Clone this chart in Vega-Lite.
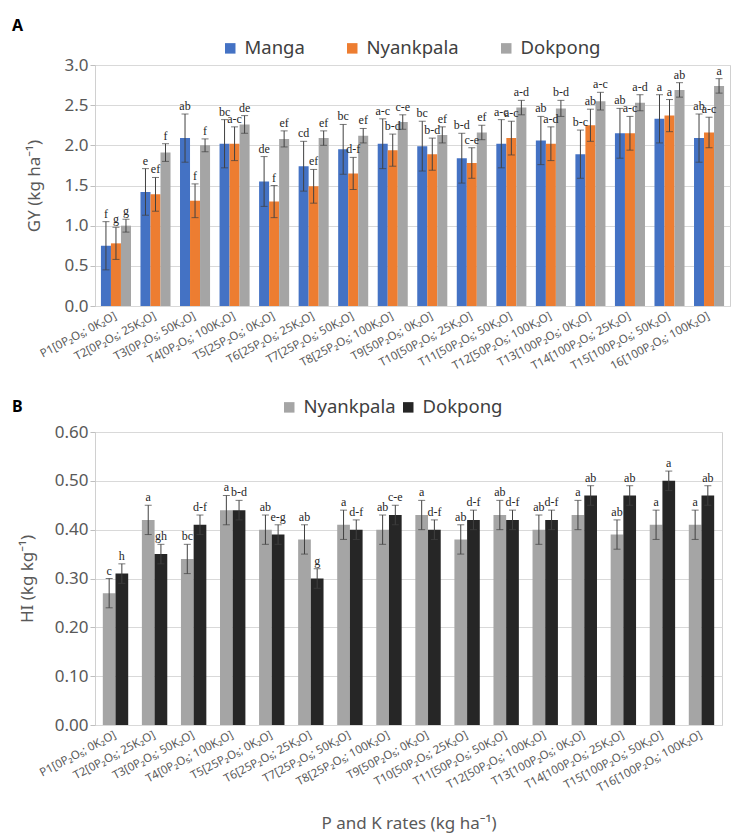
{
  "$schema": "https://vega.github.io/schema/vega-lite/v6.json",
  "background": "white",
  "padding": {"left": 11, "top": 17, "right": 2, "bottom": 0},
  "spacing": 24,
  "resolve": {"scale": {"color": "independent", "x": "independent", "xOffset": "independent", "y": "independent"}, "legend": {"color": "independent"}},
  "config": {
    "view": {"stroke": "#d0d0d0", "strokeWidth": 1},
    "font": "Noto Sans",
    "axis": {
      "labelFont": "Noto Sans",
      "titleFont": "Noto Sans",
      "labelColor": "#595959",
      "titleColor": "#595959",
      "titleFontWeight": "normal",
      "gridColor": "#d9d9d9",
      "domain": false
    },
    "legend": {"labelFont": "Noto Sans", "labelColor": "#404040"},
    "title": {"font": "Noto Sans", "fontWeight": "bold", "fontSize": 16, "color": "#000000", "anchor": "start", "frame": "group"}
  },
  "datasets": {
    "gy": [
      {"t": "P1[0P₂O₅; 0K₂O]", "s": "Manga", "v": 0.75, "lo": 0.45, "hi": 1.05, "l": "f"},
      {"t": "P1[0P₂O₅; 0K₂O]", "s": "Nyankpala", "v": 0.78, "lo": 0.58, "hi": 0.98, "l": "g"},
      {"t": "P1[0P₂O₅; 0K₂O]", "s": "Dokpong", "v": 1.0, "lo": 0.92, "hi": 1.08, "l": "g"},
      {"t": "T2[0P₂O₅; 25K₂O]", "s": "Manga", "v": 1.42, "lo": 1.13, "hi": 1.71, "l": "e"},
      {"t": "T2[0P₂O₅; 25K₂O]", "s": "Nyankpala", "v": 1.39, "lo": 1.18, "hi": 1.6, "l": "ef"},
      {"t": "T2[0P₂O₅; 25K₂O]", "s": "Dokpong", "v": 1.91, "lo": 1.8, "hi": 2.02, "l": "f"},
      {"t": "T3[0P₂O₅; 50K₂O]", "s": "Manga", "v": 2.09, "lo": 1.79, "hi": 2.39, "l": "ab"},
      {"t": "T3[0P₂O₅; 50K₂O]", "s": "Nyankpala", "v": 1.31, "lo": 1.1, "hi": 1.52, "l": "f"},
      {"t": "T3[0P₂O₅; 50K₂O]", "s": "Dokpong", "v": 2.0, "lo": 1.92, "hi": 2.08, "l": "f"},
      {"t": "T4[0P₂O₅; 100K₂O]", "s": "Manga", "v": 2.02, "lo": 1.72, "hi": 2.32, "l": "bc"},
      {"t": "T4[0P₂O₅; 100K₂O]", "s": "Nyankpala", "v": 2.02, "lo": 1.81, "hi": 2.23, "l": "a-c"},
      {"t": "T4[0P₂O₅; 100K₂O]", "s": "Dokpong", "v": 2.26, "lo": 2.15, "hi": 2.37, "l": "de"},
      {"t": "T5[25P₂O₅; 0K₂O]", "s": "Manga", "v": 1.55, "lo": 1.24, "hi": 1.86, "l": "de"},
      {"t": "T5[25P₂O₅; 0K₂O]", "s": "Nyankpala", "v": 1.3, "lo": 1.1, "hi": 1.5, "l": "f"},
      {"t": "T5[25P₂O₅; 0K₂O]", "s": "Dokpong", "v": 2.08, "lo": 1.98, "hi": 2.18, "l": "ef"},
      {"t": "T6[25P₂O₅; 25K₂O]", "s": "Manga", "v": 1.74, "lo": 1.43, "hi": 2.05, "l": "cd"},
      {"t": "T6[25P₂O₅; 25K₂O]", "s": "Nyankpala", "v": 1.49, "lo": 1.28, "hi": 1.7, "l": "ef"},
      {"t": "T6[25P₂O₅; 25K₂O]", "s": "Dokpong", "v": 2.09, "lo": 2.0, "hi": 2.18, "l": "ef"},
      {"t": "T7[25P₂O₅; 50K₂O]", "s": "Manga", "v": 1.95, "lo": 1.64, "hi": 2.26, "l": "bc"},
      {"t": "T7[25P₂O₅; 50K₂O]", "s": "Nyankpala", "v": 1.65, "lo": 1.45, "hi": 1.85, "l": "d-f"},
      {"t": "T7[25P₂O₅; 50K₂O]", "s": "Dokpong", "v": 2.12, "lo": 2.03, "hi": 2.21, "l": "ef"},
      {"t": "T8[25P₂O₅; 100K₂O]", "s": "Manga", "v": 2.02, "lo": 1.71, "hi": 2.33, "l": "a-c"},
      {"t": "T8[25P₂O₅; 100K₂O]", "s": "Nyankpala", "v": 1.94, "lo": 1.74, "hi": 2.14, "l": "b-d"},
      {"t": "T8[25P₂O₅; 100K₂O]", "s": "Dokpong", "v": 2.29, "lo": 2.2, "hi": 2.38, "l": "c-e"},
      {"t": "T9[50P₂O₅; 0K₂O]", "s": "Manga", "v": 1.99, "lo": 1.68, "hi": 2.3, "l": "bc"},
      {"t": "T9[50P₂O₅; 0K₂O]", "s": "Nyankpala", "v": 1.89, "lo": 1.69, "hi": 2.09, "l": "b-d"},
      {"t": "T9[50P₂O₅; 0K₂O]", "s": "Dokpong", "v": 2.13, "lo": 2.03, "hi": 2.23, "l": "ef"},
      {"t": "T10[50P₂O₅; 25K₂O]", "s": "Manga", "v": 1.84, "lo": 1.53, "hi": 2.15, "l": "b-d"},
      {"t": "T10[50P₂O₅; 25K₂O]", "s": "Nyankpala", "v": 1.78, "lo": 1.59, "hi": 1.97, "l": "c-e"},
      {"t": "T10[50P₂O₅; 25K₂O]", "s": "Dokpong", "v": 2.16, "lo": 2.07, "hi": 2.25, "l": "ef"},
      {"t": "T11[50P₂O₅; 50K₂O]", "s": "Manga", "v": 2.02, "lo": 1.72, "hi": 2.32, "l": "a-c"},
      {"t": "T11[50P₂O₅; 50K₂O]", "s": "Nyankpala", "v": 2.09, "lo": 1.88, "hi": 2.3, "l": "a-c"},
      {"t": "T11[50P₂O₅; 50K₂O]", "s": "Dokpong", "v": 2.47, "lo": 2.38, "hi": 2.56, "l": "a-d"},
      {"t": "T12[50P₂O₅; 100K₂O]", "s": "Manga", "v": 2.06, "lo": 1.76, "hi": 2.36, "l": "ab"},
      {"t": "T12[50P₂O₅; 100K₂O]", "s": "Nyankpala", "v": 2.02, "lo": 1.81, "hi": 2.23, "l": "a-d"},
      {"t": "T12[50P₂O₅; 100K₂O]", "s": "Dokpong", "v": 2.46, "lo": 2.36, "hi": 2.56, "l": "b-d"},
      {"t": "T13[100P₂O₅; 0K₂O]", "s": "Manga", "v": 1.89, "lo": 1.59, "hi": 2.19, "l": "b-c"},
      {"t": "T13[100P₂O₅; 0K₂O]", "s": "Nyankpala", "v": 2.25, "lo": 2.05, "hi": 2.45, "l": "ab"},
      {"t": "T13[100P₂O₅; 0K₂O]", "s": "Dokpong", "v": 2.55, "lo": 2.44, "hi": 2.66, "l": "a-c"},
      {"t": "T14[100P₂O₅; 25K₂O]", "s": "Manga", "v": 2.15, "lo": 1.84, "hi": 2.46, "l": "ab"},
      {"t": "T14[100P₂O₅; 25K₂O]", "s": "Nyankpala", "v": 2.15, "lo": 1.94, "hi": 2.36, "l": "a-c"},
      {"t": "T14[100P₂O₅; 25K₂O]", "s": "Dokpong", "v": 2.53, "lo": 2.43, "hi": 2.63, "l": "a-d"},
      {"t": "T15[100P₂O₅; 50K₂O]", "s": "Manga", "v": 2.33, "lo": 2.03, "hi": 2.63, "l": "a"},
      {"t": "T15[100P₂O₅; 50K₂O]", "s": "Nyankpala", "v": 2.37, "lo": 2.17, "hi": 2.57, "l": "a"},
      {"t": "T15[100P₂O₅; 50K₂O]", "s": "Dokpong", "v": 2.69, "lo": 2.6, "hi": 2.78, "l": "ab"},
      {"t": "16[100P₂O₅; 100K₂O]", "s": "Manga", "v": 2.09, "lo": 1.79, "hi": 2.39, "l": "ab"},
      {"t": "16[100P₂O₅; 100K₂O]", "s": "Nyankpala", "v": 2.16, "lo": 1.97, "hi": 2.35, "l": "a-c"},
      {"t": "16[100P₂O₅; 100K₂O]", "s": "Dokpong", "v": 2.74, "lo": 2.65, "hi": 2.83, "l": "a"}
    ],
    "hi": [
      {"t": "P1[0P₂O₅; 0K₂O]", "s": "Nyankpala", "v": 0.27, "lo": 0.24, "hi": 0.3, "l": "c"},
      {"t": "P1[0P₂O₅; 0K₂O]", "s": "Dokpong", "v": 0.31, "lo": 0.29, "hi": 0.33, "l": "h"},
      {"t": "T2[0P₂O₅; 25K₂O]", "s": "Nyankpala", "v": 0.42, "lo": 0.39, "hi": 0.45, "l": "a"},
      {"t": "T2[0P₂O₅; 25K₂O]", "s": "Dokpong", "v": 0.35, "lo": 0.33, "hi": 0.37, "l": "gh"},
      {"t": "T3[0P₂O₅; 50K₂O]", "s": "Nyankpala", "v": 0.34, "lo": 0.31, "hi": 0.37, "l": "bc"},
      {"t": "T3[0P₂O₅; 50K₂O]", "s": "Dokpong", "v": 0.41, "lo": 0.39, "hi": 0.43, "l": "d-f"},
      {"t": "T4[0P₂O₅; 100K₂O]", "s": "Nyankpala", "v": 0.44, "lo": 0.41, "hi": 0.47, "l": "a"},
      {"t": "T4[0P₂O₅; 100K₂O]", "s": "Dokpong", "v": 0.44, "lo": 0.42, "hi": 0.46, "l": "b-d"},
      {"t": "T5[25P₂O₅; 0K₂O]", "s": "Nyankpala", "v": 0.4, "lo": 0.37, "hi": 0.43, "l": "ab"},
      {"t": "T5[25P₂O₅; 0K₂O]", "s": "Dokpong", "v": 0.39, "lo": 0.37, "hi": 0.41, "l": "e-g"},
      {"t": "T6[25P₂O₅; 25K₂O]", "s": "Nyankpala", "v": 0.38, "lo": 0.35, "hi": 0.41, "l": "ab"},
      {"t": "T6[25P₂O₅; 25K₂O]", "s": "Dokpong", "v": 0.3, "lo": 0.28, "hi": 0.32, "l": "g"},
      {"t": "T7[25P₂O₅; 50K₂O]", "s": "Nyankpala", "v": 0.41, "lo": 0.38, "hi": 0.44, "l": "a"},
      {"t": "T7[25P₂O₅; 50K₂O]", "s": "Dokpong", "v": 0.4, "lo": 0.38, "hi": 0.42, "l": "d-f"},
      {"t": "T8[25P₂O₅; 100K₂O]", "s": "Nyankpala", "v": 0.4, "lo": 0.37, "hi": 0.43, "l": "ab"},
      {"t": "T8[25P₂O₅; 100K₂O]", "s": "Dokpong", "v": 0.43, "lo": 0.41, "hi": 0.45, "l": "c-e"},
      {"t": "T9[50P₂O₅; 0K₂O]", "s": "Nyankpala", "v": 0.43, "lo": 0.4, "hi": 0.46, "l": "a"},
      {"t": "T9[50P₂O₅; 0K₂O]", "s": "Dokpong", "v": 0.4, "lo": 0.38, "hi": 0.42, "l": "d-f"},
      {"t": "T10[50P₂O₅; 25K₂O]", "s": "Nyankpala", "v": 0.38, "lo": 0.35, "hi": 0.41, "l": "ab"},
      {"t": "T10[50P₂O₅; 25K₂O]", "s": "Dokpong", "v": 0.42, "lo": 0.4, "hi": 0.44, "l": "d-f"},
      {"t": "T11[50P₂O₅; 50K₂O]", "s": "Nyankpala", "v": 0.43, "lo": 0.4, "hi": 0.46, "l": "ab"},
      {"t": "T11[50P₂O₅; 50K₂O]", "s": "Dokpong", "v": 0.42, "lo": 0.4, "hi": 0.44, "l": "d-f"},
      {"t": "T12[50P₂O₅; 100K₂O]", "s": "Nyankpala", "v": 0.4, "lo": 0.37, "hi": 0.43, "l": "ab"},
      {"t": "T12[50P₂O₅; 100K₂O]", "s": "Dokpong", "v": 0.42, "lo": 0.4, "hi": 0.44, "l": "d-f"},
      {"t": "T13[100P₂O₅; 0K₂O]", "s": "Nyankpala", "v": 0.43, "lo": 0.4, "hi": 0.46, "l": "a"},
      {"t": "T13[100P₂O₅; 0K₂O]", "s": "Dokpong", "v": 0.47, "lo": 0.45, "hi": 0.49, "l": "ab"},
      {"t": "T14[100P₂O₅; 25K₂O]", "s": "Nyankpala", "v": 0.39, "lo": 0.36, "hi": 0.42, "l": "ab"},
      {"t": "T14[100P₂O₅; 25K₂O]", "s": "Dokpong", "v": 0.47, "lo": 0.45, "hi": 0.49, "l": "ab"},
      {"t": "T15[100P₂O₅; 50K₂O]", "s": "Nyankpala", "v": 0.41, "lo": 0.38, "hi": 0.44, "l": "a"},
      {"t": "T15[100P₂O₅; 50K₂O]", "s": "Dokpong", "v": 0.5, "lo": 0.48, "hi": 0.52, "l": "a"},
      {"t": "T16[100P₂O₅; 100K₂O]", "s": "Nyankpala", "v": 0.41, "lo": 0.38, "hi": 0.44, "l": "a"},
      {"t": "T16[100P₂O₅; 100K₂O]", "s": "Dokpong", "v": 0.47, "lo": 0.45, "hi": 0.49, "l": "ab"}
    ]
  },
  "vconcat": [
    {
      "width": 635,
      "height": 241,
      "data": {"name": "gy"},
      "title": {"text": "A", "dx": -83, "offset": 5},
      "encoding": {
        "x": {
          "field": "t", "type": "nominal", "sort": null, "title": null,
          "scale": {"paddingInner": 0.24, "paddingOuter": 0.15},
          "axis": {"labelAngle": -28, "labelFontSize": 11.5, "ticks": false, "labelOverlap": false, "labelPadding": 9, "labelBaseline": "middle"}
        },
        "xOffset": {"field": "s", "type": "nominal", "sort": ["Manga", "Nyankpala", "Dokpong"], "scale": {"paddingInner": 0, "paddingOuter": 0}}
      },
      "layer": [
        {
          "mark": {"type": "bar"},
          "encoding": {
            "y": {"field": "v", "type": "quantitative", "title": "GY (kg ha⁻¹)", "scale": {"domain": [0, 3]},
              "axis": {"values": [0, 0.5, 1, 1.5, 2, 2.5, 3], "format": ".1f", "labelFontSize": 17, "titleFontSize": 17, "tickColor": "#bfbfbf", "tickSize": 5, "titlePadding": 20}},
            "color": {
              "field": "s", "type": "nominal",
              "scale": {"domain": ["Manga", "Nyankpala", "Dokpong"], "range": ["#4472C4", "#ED7D31", "#A5A5A5"]},
              "legend": {"orient": "none", "legendX": 126, "legendY": -26, "direction": "horizontal", "title": null, "symbolType": "square", "symbolSize": 110, "symbolStrokeWidth": 0, "labelFontSize": 18.5, "columnPadding": 38, "labelOffset": 5}
            }
          }
        },
        {
          "mark": {"type": "rule", "color": "#404040", "strokeWidth": 1},
          "encoding": {"y": {"field": "lo", "type": "quantitative", "title": "GY (kg ha⁻¹)"}, "y2": {"field": "hi"}}
        },
        {
          "mark": {"type": "tick", "color": "#404040", "size": 7, "thickness": 1},
          "encoding": {"y": {"field": "hi", "type": "quantitative", "title": "GY (kg ha⁻¹)"}}
        },
        {
          "mark": {"type": "tick", "color": "#404040", "size": 7, "thickness": 1},
          "encoding": {"y": {"field": "lo", "type": "quantitative", "title": "GY (kg ha⁻¹)"}}
        },
        {
          "mark": {"type": "text", "baseline": "bottom", "dy": -1, "font": "Liberation Serif", "fontSize": 12, "color": "#262626"},
          "encoding": {"y": {"field": "hi", "type": "quantitative", "title": "GY (kg ha⁻¹)"}, "text": {"field": "l"}}
        }
      ]
    },
    {
      "width": 627,
      "height": 293,
      "data": {"name": "hi"},
      "title": {"text": "B", "dx": -83, "offset": -17},
      "encoding": {
        "x": {
          "field": "t", "type": "nominal", "sort": null, "title": "P and K rates (kg ha⁻¹)",
          "scale": {"paddingInner": 0.35, "paddingOuter": 0.2},
          "axis": {"labelAngle": -28, "labelFontSize": 11.5, "ticks": false, "labelOverlap": false, "labelPadding": 9, "labelBaseline": "middle", "titleFontSize": 17, "titlePadding": 22}
        },
        "xOffset": {"field": "s", "type": "nominal", "sort": ["Nyankpala", "Dokpong"], "scale": {"paddingInner": 0, "paddingOuter": 0}}
      },
      "layer": [
        {
          "mark": {"type": "bar"},
          "encoding": {
            "y": {"field": "v", "type": "quantitative", "title": "HI (kg kg⁻¹)", "scale": {"domain": [0, 0.6]},
              "axis": {"values": [0, 0.1, 0.2, 0.3, 0.4, 0.5, 0.6], "format": ".2f", "labelFontSize": 17, "titleFontSize": 17, "tickColor": "#bfbfbf", "tickSize": 5, "titlePadding": 18}},
            "color": {
              "field": "s", "type": "nominal",
              "scale": {"domain": ["Nyankpala", "Dokpong"], "range": ["#A5A5A5", "#262626"]},
              "legend": {"orient": "none", "legendX": 185, "legendY": -34, "direction": "horizontal", "title": null, "symbolType": "square", "symbolSize": 110, "symbolStrokeWidth": 0, "labelFontSize": 18.5, "columnPadding": 3, "labelOffset": 5}
            }
          }
        },
        {
          "mark": {"type": "rule", "color": "#404040", "strokeWidth": 1},
          "encoding": {"y": {"field": "lo", "type": "quantitative", "title": "HI (kg kg⁻¹)"}, "y2": {"field": "hi"}}
        },
        {
          "mark": {"type": "tick", "color": "#404040", "size": 7, "thickness": 1},
          "encoding": {"y": {"field": "hi", "type": "quantitative", "title": "HI (kg kg⁻¹)"}}
        },
        {
          "mark": {"type": "tick", "color": "#404040", "size": 7, "thickness": 1},
          "encoding": {"y": {"field": "lo", "type": "quantitative", "title": "HI (kg kg⁻¹)"}}
        },
        {
          "mark": {"type": "text", "baseline": "bottom", "dy": -1, "font": "Liberation Serif", "fontSize": 12, "color": "#262626"},
          "encoding": {"y": {"field": "hi", "type": "quantitative", "title": "HI (kg kg⁻¹)"}, "text": {"field": "l"}}
        }
      ]
    }
  ]
}
